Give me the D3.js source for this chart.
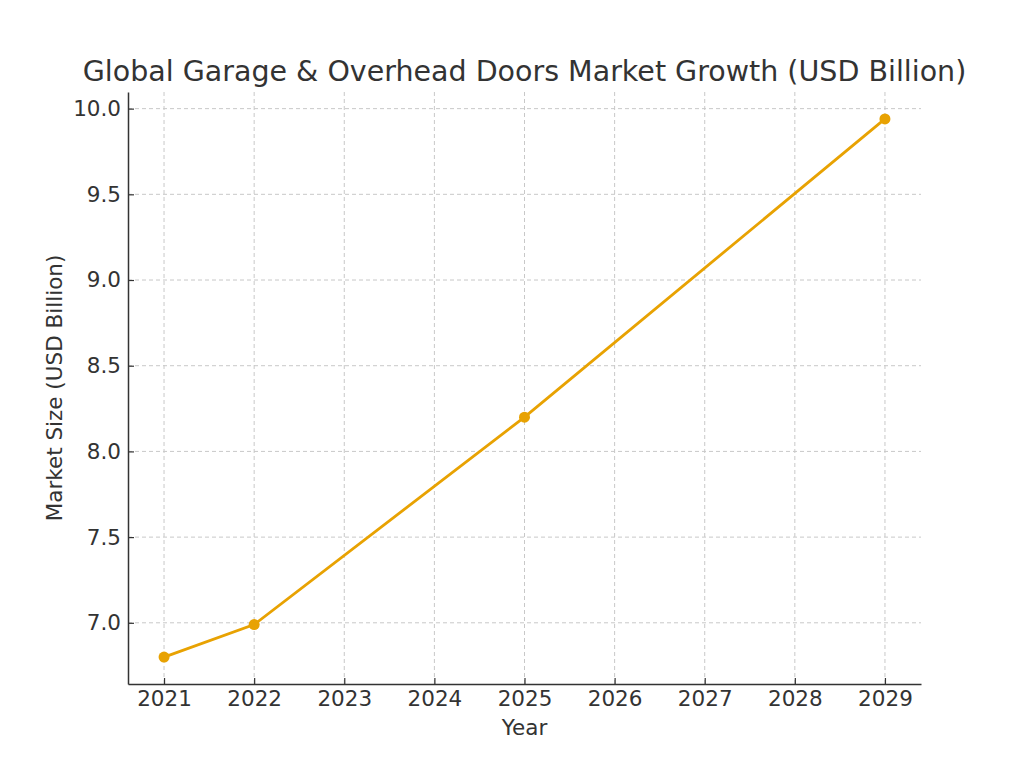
<!DOCTYPE html>
<html>
<head>
<meta charset="utf-8">
<script src="https://cdn.jsdelivr.net/npm/d3@7"></script>
<style>
  body { margin: 0; background: #fff; }
  text { font-family: "DejaVu Sans", sans-serif; fill: #333; }
</style>
</head>
<body>
<div id="chart"></div>
<script>
// data
const years = [2021, 2022, 2025, 2029];
const marketSize = [6.8, 6.99, 8.2, 9.94];
const xTicks = [2021, 2022, 2023, 2024, 2025, 2026, 2027, 2028, 2029];
const yTicks = [7.0, 7.5, 8.0, 8.5, 9.0, 9.5, 10.0];

const W = 1024, H = 768;
const m = { top: 92, right: 103, bottom: 84, left: 128 };
const color = '#E8A202';

const svg = d3.select('#chart').append('svg')
    .attr('width', W).attr('height', H);

// matplotlib style 5% padding
const yMin = d3.min(marketSize), yMax = d3.max(marketSize);
const yPad = (yMax - yMin) * 0.05;
const x = d3.scaleLinear().domain([2021 - 0.4, 2029 + 0.4]).range([m.left, W - m.right]);
const y = d3.scaleLinear().domain([yMin - yPad, yMax + yPad]).range([H - m.bottom, m.top]);

// grid
const grid = svg.append('g');
grid.selectAll('line.v').data(xTicks).join('line')
    .attr('x1', d => x(d)).attr('x2', d => x(d))
    .attr('y1', m.top).attr('y2', H - m.bottom)
    .attr('stroke', '#c8c8c8').attr('stroke-dasharray', '4,3').attr('stroke-width', 1);
grid.selectAll('line.h').data(yTicks).join('line')
    .attr('y1', d => y(d)).attr('y2', d => y(d))
    .attr('x1', m.left).attr('x2', W - m.right)
    .attr('stroke', '#c8c8c8').attr('stroke-dasharray', '4,3').attr('stroke-width', 1);

// axes (ticks point inward)
const xAxis = svg.append('g')
    .attr('transform', `translate(0,${H - m.bottom})`)
    .call(d3.axisBottom(x).tickValues(xTicks).tickFormat(d3.format('d')).tickSize(-6).tickSizeOuter(0));
const yAxis = svg.append('g')
    .attr('transform', `translate(${m.left},0)`)
    .call(d3.axisLeft(y).tickValues(yTicks).tickFormat(d3.format('.1f')).tickSize(-6).tickSizeOuter(0));

[xAxis, yAxis].forEach(a => {
    a.select('.domain').attr('stroke', '#333').attr('stroke-width', 1.5);
    a.selectAll('.tick line').attr('stroke', '#333').attr('stroke-width', 1.2);
    a.selectAll('.tick text').attr('font-size', 21.5).attr('fill', '#333')
        .style('font-family', '"DejaVu Sans", sans-serif');
});
xAxis.selectAll('.tick text').attr('y', 7).attr('dy', '0.71em');
yAxis.selectAll('.tick text').attr('x', -7);

// line + points
const line = d3.line().x((d, i) => x(years[i])).y(d => y(d));
svg.append('path').datum(marketSize)
    .attr('d', line).attr('fill', 'none')
    .attr('stroke', color).attr('stroke-width', 2.8);
svg.selectAll('circle').data(marketSize).join('circle')
    .attr('cx', (d, i) => x(years[i])).attr('cy', d => y(d))
    .attr('r', 5.5).attr('fill', color);

// labels
svg.append('text').attr('x', (m.left + W - m.right) / 2).attr('y', 81)
    .attr('text-anchor', 'middle').attr('font-size', 28.5)
    .text('Global Garage & Overhead Doors Market Growth (USD Billion)');
svg.append('text').attr('x', (m.left + W - m.right) / 2).attr('y', 735)
    .attr('text-anchor', 'middle').attr('font-size', 21.5).text('Year');
svg.append('text')
    .attr('transform', `translate(62,${(m.top + H - m.bottom) / 2}) rotate(-90)`)
    .attr('text-anchor', 'middle').attr('font-size', 21.5).text('Market Size (USD Billion)');
</script>
</body>
</html>
